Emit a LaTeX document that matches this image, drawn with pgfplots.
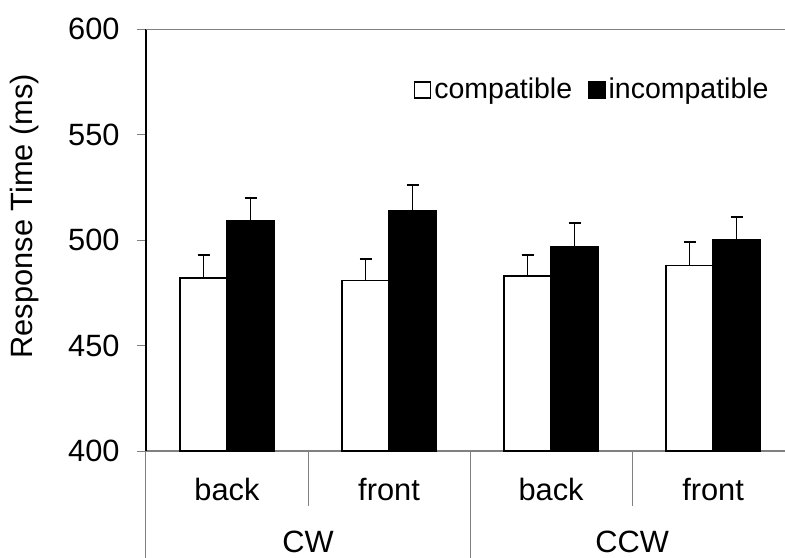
\documentclass[border=0pt]{standalone}
\usepackage{pgfplots}
\pgfplotsset{compat=1.18}
\usepackage{fontspec}
\setmainfont{Liberation Sans}
\definecolor{axgray}{RGB}{128,128,128}

\begin{document}
\fontsize{15.4}{18}\selectfont
\begin{tikzpicture}
\begin{axis}[
    scale only axis,
    width=319.5pt, height=210.85pt,
    xmin=-0.5, xmax=3.444,
    ymin=400, ymax=600,
    ytick={400,450,500,550,600},
    xtick=\empty,
    axis x line*=bottom, axis y line*=left,
    axis line style={-},
    x axis line style={draw=axgray, line width=0.6pt},
    y axis line style={draw=black, line width=0.65pt},
    tick align=outside,
    major tick length=4.5pt,
    ytick style={draw=axgray, line width=0.5pt},
    yticklabel style={anchor=east, inner sep=0pt, xshift=-8.5pt},
    /pgf/number format/assume math mode=true,
    clip mode=individual,
    ybar, bar width=0.29,
    legend image code/.code={\draw[#1, line width=0.7pt] (0pt,-4pt) rectangle (8pt,4pt);},
    legend columns=2,
    legend style={draw=none, fill=none, inner sep=0pt,
        font=\fontsize{14.25}{17}\selectfont,
        at={(rel axis cs:1,1)}, anchor=east, xshift=-7pt, yshift=-30.35pt,
        nodes={inner sep=1pt},
        /tikz/every odd column/.append style={column sep=0.5pt},
        /tikz/every even column/.append style={column sep=7pt}},
]
% compatible
\addplot[ybar, bar shift=-0.145, fill=white, draw=black, line width=0.7pt,
    error bars/.cd, y dir=plus, y explicit,
    error bar style={line width=0.65pt, black},
    error mark options={rotate=90, mark size=3pt, line width=1pt, black}]
coordinates {
    (0,482) +- (0,11)
    (1,481) +- (0,10)
    (2,483) +- (0,10)
    (3,488) +- (0,11)
};
% incompatible
\addplot[ybar, bar shift=0.145, fill=black, draw=black, line width=0.7pt,
    error bars/.cd, y dir=plus, y explicit,
    error bar style={line width=0.65pt, black},
    error mark options={rotate=90, mark size=3pt, line width=1pt, black}]
coordinates {
    (0,509) +- (0,11)
    (1,514) +- (0,12)
    (2,497) +- (0,11)
    (3,500) +- (0,11)
};
\legend{compatible, incompatible}

% top border
\draw[axgray, line width=0.75pt] (rel axis cs:0,1) -- (rel axis cs:1,1);

% category separators
\pgfplotsinvokeforeach{0.5,2.5}{
    \draw[axgray, line width=0.5pt] (axis cs:#1,400) -- ([yshift=-27.5pt]axis cs:#1,400);
}
\pgfplotsinvokeforeach{-0.5,1.5,3.5}{
    \draw[axgray, line width=0.5pt] (axis cs:#1,400) -- ([yshift=-60pt]axis cs:#1,400);
}

% category labels
\node[anchor=base, inner sep=0pt] at ([yshift=-24.5pt]axis cs:0,400) {back};
\node[anchor=base, inner sep=0pt] at ([yshift=-24.5pt]axis cs:1,400) {front};
\node[anchor=base, inner sep=0pt] at ([yshift=-24.5pt]axis cs:2,400) {back};
\node[anchor=base, inner sep=0pt] at ([yshift=-24.5pt]axis cs:3,400) {front};
\node[anchor=base, inner sep=0pt] at ([yshift=-50.5pt]axis cs:0.5,400) {CW};
\node[anchor=base, inner sep=0pt] at ([yshift=-50.5pt]axis cs:2.5,400) {CCW};

% y label
\node[rotate=90] at ([xshift=-60.5pt]rel axis cs:0,0.557) {Response Time (ms)};

\coordinate (ll) at (rel axis cs:0,0);
\coordinate (ur) at (rel axis cs:1,1);
\end{axis}
\pgfresetboundingbox
\useasboundingbox ([xshift=-73pt,yshift=-53pt]ll) rectangle ([yshift=14.65pt]ur);
\end{tikzpicture}
\end{document}
